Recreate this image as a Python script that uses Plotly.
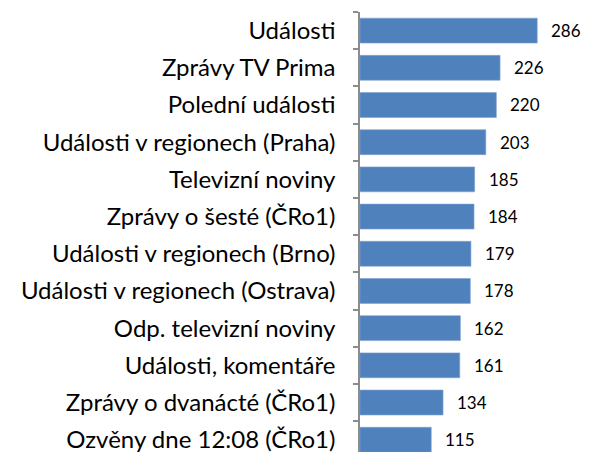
import plotly.graph_objects as go

categories = [
    "Události",
    "Zprávy TV Prima",
    "Polední události",
    "Události v regionech (Praha)",
    "Televizní noviny",
    "Zprávy o šesté (ČRo1)",
    "Události v regionech (Brno)",
    "Události v regionech (Ostrava)",
    "Odp. televizní noviny",
    "Události, komentáře",
    "Zprávy o dvanácté (ČRo1)",
    "Ozvěny dne 12:08 (ČRo1)",
]
values = [286, 226, 220, 203, 185, 184, 179, 178, 162, 161, 134, 115]

fig = go.Figure()
fig.add_trace(go.Bar(
    x=values, y=categories, orientation="h",
    marker=dict(color="#4F81BD", line=dict(color="#7FA3D3", width=0.6)),
    hoverinfo="skip",
))

for c, v in zip(categories, values):
    fig.add_annotation(x=v, y=c, text=str(v), showarrow=False,
                       xanchor="left", xshift=12,
                       font=dict(family="Lato, Carlito, sans-serif", size=17, color="#000"))

fig.update_layout(
    width=581, height=444,
    margin=dict(l=352, r=9, t=4, b=0, autoexpand=False),
    paper_bgcolor="white", plot_bgcolor="white",
    bargap=0.33, showlegend=False,
    font=dict(family="Lato, Carlito, sans-serif", color="#000"),
)
fig.update_xaxes(range=[0, 355], visible=False)
fig.update_yaxes(
    type="category", automargin=False,
    categoryorder="array", categoryarray=categories,
    range=[11.33, -0.5],
    showline=True, linecolor="#8C8C8C", linewidth=1.5,
    ticks="outside", ticklen=5, tickcolor="#8C8C8C", tickwidth=1.5,
    tickson="boundaries",
    ticklabelstandoff=18,
    tickfont=dict(size=24, color="#000"),
    showgrid=False,
)

fig.write_html("out.html")
